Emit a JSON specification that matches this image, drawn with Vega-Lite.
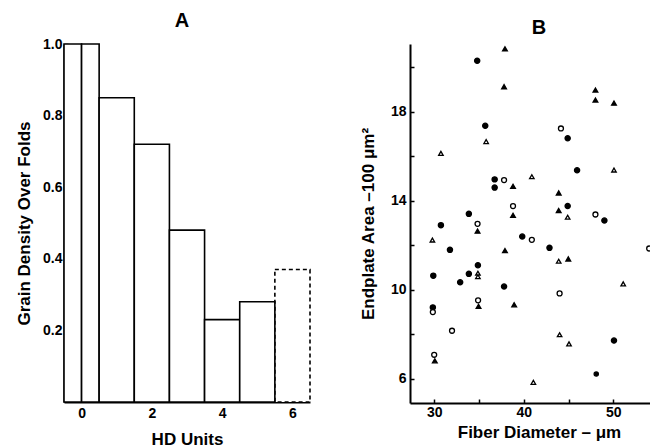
{
  "$schema": "https://vega.github.io/schema/vega-lite/v6.json",
  "background": "white",
  "padding": {"left": 15, "top": 11, "right": 0, "bottom": 0},
  "spacing": 48,
  "config": {
    "view": {"stroke": null},
    "font": "Liberation Sans",
    "axis": {
      "grid": false,
      "zindex": 1,
      "domainColor": "black",
      "domainWidth": 2,
      "tickColor": "black",
      "tickWidth": 1.5,
      "tickSize": -4,
      "labelColor": "black",
      "titleColor": "black",
      "labelFont": "Liberation Sans",
      "titleFont": "Liberation Sans",
      "labelFontSize": 14,
      "labelFontWeight": "bold",
      "titleFontSize": 17,
      "titleFontWeight": "bold"
    },
    "title": {"font": "Liberation Sans", "fontSize": 20, "fontWeight": "bold", "color": "black", "frame": "group", "baseline": "alphabetic", "offset": 6, "anchor": "middle"}
  },
  "hconcat": [
    {
      "width": 246,
      "height": 358,
      "title": {"text": "A", "dx": -5},
      "data": {"values": [
        {"lo": 5.5, "hi": 6.5, "density": 0.37, "kind": "estimated"},
        {"lo": -0.5, "hi": 0, "density": 1.0, "kind": "measured"},
        {"lo": 0, "hi": 0.5, "density": 1.0, "kind": "measured"},
        {"lo": 0.5, "hi": 1.5, "density": 0.85, "kind": "measured"},
        {"lo": 1.5, "hi": 2.5, "density": 0.72, "kind": "measured"},
        {"lo": 2.5, "hi": 3.5, "density": 0.48, "kind": "measured"},
        {"lo": 3.5, "hi": 4.5, "density": 0.23, "kind": "measured"},
        {"lo": 4.5, "hi": 5.5, "density": 0.28, "kind": "measured"}
      ]},
      "encoding": {
        "x": {"field": "lo", "type": "quantitative",
          "scale": {"domain": [-0.5, 6.5], "nice": false, "zero": false},
          "axis": {"title": "HD Units", "values": [0, 2, 4, 6], "format": "d", "labelPadding": 8, "titlePadding": 11}},
        "x2": {"field": "hi"},
        "y": {"field": "density", "type": "quantitative",
          "scale": {"domain": [0, 1], "nice": false},
          "axis": {"title": "Grain Density Over Folds", "values": [0.2, 0.4, 0.6, 0.8, 1.0], "format": ".1f", "labelPadding": 6, "titlePadding": 9}},
        "y2": {"datum": 0}
      },
      "layer": [
        {
          "transform": [{"filter": "datum.kind == 'estimated'"}],
          "mark": {"type": "rect", "fill": "white", "stroke": "black", "strokeWidth": 1.6, "strokeDash": [4, 3]}
        },
        {
          "transform": [{"filter": "datum.kind == 'measured'"}],
          "mark": {"type": "rect", "fill": "white", "stroke": "black", "strokeWidth": 1.6}
        }
      ]
    },
    {
      "width": 258,
      "height": 359,
      "title": "B",
      "data": {"values": [
        {"diameter": 34.8, "area": 20.3, "group": "Group 1"},
        {"diameter": 37.9, "area": 20.83, "group": "Group 3"},
        {"diameter": 37.8, "area": 19.13, "group": "Group 3"},
        {"diameter": 48.0, "area": 18.98, "group": "Group 3"},
        {"diameter": 48.0, "area": 18.53, "group": "Group 3"},
        {"diameter": 50.07, "area": 18.39, "group": "Group 3"},
        {"diameter": 35.7, "area": 17.37, "group": "Group 1"},
        {"diameter": 35.8, "area": 16.66, "group": "Group 4"},
        {"diameter": 30.75, "area": 16.13, "group": "Group 4"},
        {"diameter": 44.15, "area": 17.25, "group": "Group 2"},
        {"diameter": 44.9, "area": 16.81, "group": "Group 1"},
        {"diameter": 45.95, "area": 15.37, "group": "Group 1"},
        {"diameter": 50.07, "area": 15.38, "group": "Group 4"},
        {"diameter": 40.9, "area": 15.08, "group": "Group 4"},
        {"diameter": 36.75, "area": 14.96, "group": "Group 1"},
        {"diameter": 37.8, "area": 14.93, "group": "Group 2"},
        {"diameter": 36.75, "area": 14.59, "group": "Group 1"},
        {"diameter": 38.8, "area": 14.65, "group": "Group 3"},
        {"diameter": 43.9, "area": 14.35, "group": "Group 3"},
        {"diameter": 38.8, "area": 13.76, "group": "Group 2"},
        {"diameter": 44.9, "area": 13.76, "group": "Group 1"},
        {"diameter": 43.9, "area": 13.56, "group": "Group 3"},
        {"diameter": 38.8, "area": 13.34, "group": "Group 3"},
        {"diameter": 44.9, "area": 13.26, "group": "Group 4"},
        {"diameter": 48.0, "area": 13.38, "group": "Group 2"},
        {"diameter": 49.0, "area": 13.11, "group": "Group 1"},
        {"diameter": 33.87, "area": 13.41, "group": "Group 1"},
        {"diameter": 30.75, "area": 12.9, "group": "Group 1"},
        {"diameter": 34.84, "area": 12.96, "group": "Group 2"},
        {"diameter": 34.84, "area": 12.63, "group": "Group 3"},
        {"diameter": 29.8, "area": 12.23, "group": "Group 4"},
        {"diameter": 39.83, "area": 12.39, "group": "Group 1"},
        {"diameter": 40.9, "area": 12.24, "group": "Group 2"},
        {"diameter": 42.87, "area": 11.88, "group": "Group 1"},
        {"diameter": 54.0, "area": 11.85, "group": "Group 2"},
        {"diameter": 31.76, "area": 11.79, "group": "Group 1"},
        {"diameter": 37.9, "area": 11.76, "group": "Group 3"},
        {"diameter": 43.9, "area": 11.28, "group": "Group 4"},
        {"diameter": 44.97, "area": 11.38, "group": "Group 3"},
        {"diameter": 34.88, "area": 11.1, "group": "Group 1"},
        {"diameter": 33.87, "area": 10.71, "group": "Group 1"},
        {"diameter": 34.88, "area": 10.74, "group": "Group 4"},
        {"diameter": 34.88, "area": 10.58, "group": "Group 4"},
        {"diameter": 29.9, "area": 10.63, "group": "Group 1"},
        {"diameter": 32.9, "area": 10.33, "group": "Group 1"},
        {"diameter": 37.8, "area": 10.14, "group": "Group 1"},
        {"diameter": 51.1, "area": 10.26, "group": "Group 4"},
        {"diameter": 44.0, "area": 9.83, "group": "Group 2"},
        {"diameter": 34.9, "area": 9.52, "group": "Group 2"},
        {"diameter": 34.95, "area": 9.25, "group": "Group 3"},
        {"diameter": 38.93, "area": 9.32, "group": "Group 3"},
        {"diameter": 29.85, "area": 9.2, "group": "Group 1"},
        {"diameter": 29.85, "area": 8.99, "group": "Group 2"},
        {"diameter": 31.99, "area": 8.15, "group": "Group 2"},
        {"diameter": 44.0, "area": 7.97, "group": "Group 4"},
        {"diameter": 45.05, "area": 7.56, "group": "Group 4"},
        {"diameter": 50.07, "area": 7.71, "group": "Group 1"},
        {"diameter": 30.0, "area": 7.07, "group": "Group 2"},
        {"diameter": 30.07, "area": 6.8, "group": "Group 3"},
        {"diameter": 41.07, "area": 5.83, "group": "Group 4"},
        {"diameter": 48.09, "area": 6.2, "group": "Group 5"}
      ]},
      "mark": {"type": "point", "filled": true, "stroke": "black", "strokeWidth": 1.3, "opacity": 1},
      "encoding": {
        "x": {"field": "diameter", "type": "quantitative",
          "scale": {"domain": [27.3, 56.1], "nice": false, "zero": false},
          "axis": {"title": "Fiber Diameter – μm", "values": [30, 35, 40, 45, 50], "labelExpr": "datum.value % 10 == 0 ? datum.label : ''", "labelPadding": 6, "titlePadding": 5}},
        "y": {"field": "area", "type": "quantitative",
          "scale": {"domain": [4.9, 21.05], "nice": false, "zero": false},
          "axis": {"title": "Endplate Area –100 μm²", "values": [6, 8, 10, 12, 14, 16, 18, 20], "labelExpr": "datum.value % 4 == 2 ? datum.label : ''", "labelPadding": 8, "titlePadding": 13}},
        "shape": {"field": "group", "type": "nominal",
          "scale": {"domain": ["Group 1", "Group 2", "Group 3", "Group 4", "Group 5"], "range": ["circle", "circle", "triangle-up", "triangle-up", "circle"]},
          "legend": null},
        "fill": {"field": "group", "type": "nominal",
          "scale": {"domain": ["Group 1", "Group 2", "Group 3", "Group 4", "Group 5"], "range": ["black", "white", "black", "white", "black"]},
          "legend": null},
        "size": {"field": "group", "type": "nominal",
          "scale": {"domain": ["Group 1", "Group 2", "Group 3", "Group 4", "Group 5"], "range": [27, 18, 16, 24, 0.5]},
          "legend": null}
      }
    }
  ]
}
